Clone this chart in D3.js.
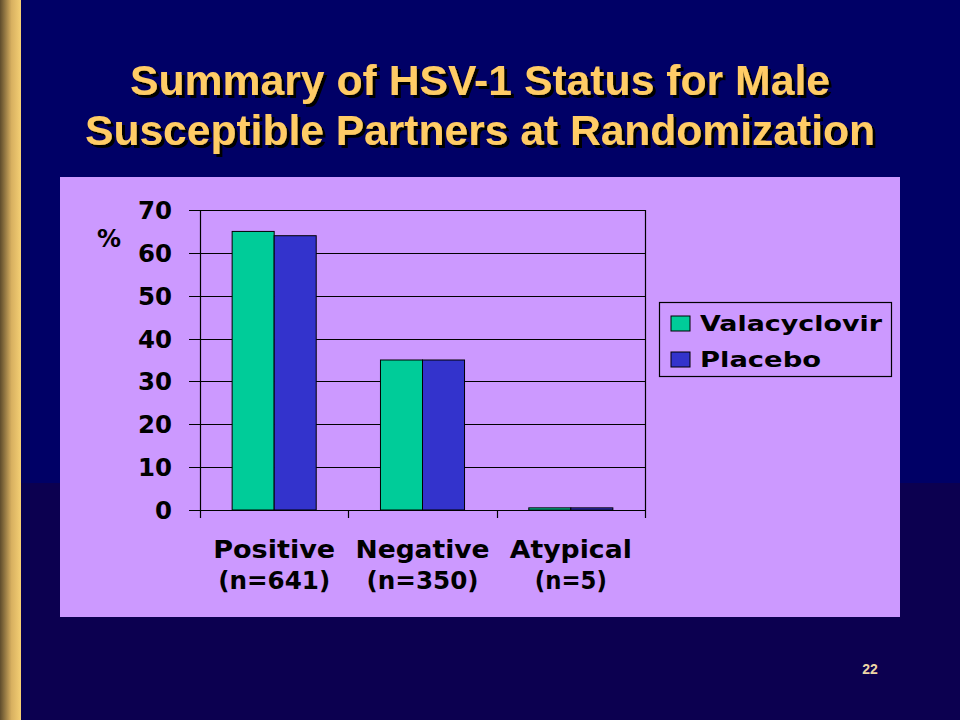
<!DOCTYPE html>
<html><head><meta charset="utf-8">
<script src="https://cdn.jsdelivr.net/npm/d3@7"></script>
<style>html,body{margin:0;padding:0;background:#000066;}svg{display:block;}</style>
</head><body>
<script>
const titleLines = ["Summary of HSV-1 Status for Male", "Susceptible Partners at Randomization"];
const categories = ["Positive", "Negative", "Atypical"];
const categorySubLabels = ["(n=641)", "(n=350)", "(n=5)"];
const seriesNames = ["Valacyclovir", "Placebo"];
const valacyclovir = [65, 35, 0.5];
const placebo = [64, 35, 0.5];
const yTicks = [0, 10, 20, 30, 40, 50, 60, 70];
const pageNumber = "22";

const W = 960, H = 720;
const svg = d3.select("body").append("svg").attr("width", W).attr("height", H);
const defs = svg.append("defs");
const g1 = defs.append("linearGradient").attr("id", "gold").attr("x1", "0").attr("x2", "1").attr("y1", "0").attr("y2", "0");
g1.append("stop").attr("offset", "0").attr("stop-color", "#5e4c2c");
g1.append("stop").attr("offset", "0.55").attr("stop-color", "#d8b060");
g1.append("stop").attr("offset", "1").attr("stop-color", "#f4cf74");
const f = defs.append("filter").attr("id", "shadow").attr("x", "-5%").attr("y", "-20%").attr("width", "115%").attr("height", "150%");
f.append("feDropShadow").attr("dx", 3).attr("dy", 3).attr("stdDeviation", 0.4).attr("flood-color", "#000").attr("flood-opacity", 1);

// background
svg.append("rect").attr("x", 0).attr("y", 0).attr("width", W).attr("height", 483).attr("fill", "#000066");
svg.append("rect").attr("x", 0).attr("y", 483).attr("width", W).attr("height", H - 483).attr("fill", "#0c0050");
svg.append("rect").attr("x", 21).attr("y", 0).attr("width", 9).attr("height", H).attr("fill", "#000050").attr("opacity", 0.35);
svg.append("rect").attr("x", 0).attr("y", 0).attr("width", 21).attr("height", H).attr("fill", "url(#gold)");

// title
const titleFont = "'Liberation Sans', Arial, sans-serif";
const titleY = [95, 145];
const titleW = [700, 790];
titleLines.forEach((t, i) => {
  svg.append("text").attr("x", 480).attr("y", titleY[i])
    .attr("text-anchor", "middle").attr("font-family", titleFont).attr("font-weight", "bold")
    .attr("font-size", 42).attr("fill", "#ffcc66").attr("filter", "url(#shadow)")
    .attr("textLength", titleW[i]).attr("lengthAdjust", "spacingAndGlyphs").text(t);
});

// panel
svg.append("rect").attr("x", 60).attr("y", 177).attr("width", 840).attr("height", 440).attr("fill", "#cc99ff");

const chartFont = "'DejaVu Sans', Verdana, sans-serif";
const x0 = d3.scaleBand().domain(categories).range([200, 645]).paddingInner(0.4333).paddingOuter(0.2167);
const x1 = d3.scaleBand().domain(seriesNames).range([0, x0.bandwidth()]);
const y = d3.scaleLinear().domain([0, 70]).range([510, 210]);
const color = d3.scaleOrdinal().domain(seriesNames).range(["#00cc99", "#3333cc"]);

const plot = svg.append("g");
plot.selectAll("line.grid").data(yTicks).join("line")
  .attr("x1", 189).attr("x2", 645).attr("y1", d => Math.round(y(d)) + 0.5).attr("y2", d => Math.round(y(d)) + 0.5)
  .attr("stroke", "#000").attr("stroke-width", 1.2);
plot.append("line").attr("x1", 200.5).attr("x2", 200.5).attr("y1", y(70)).attr("y2", 518).attr("stroke", "#000").attr("stroke-width", 1.2);
plot.append("line").attr("x1", 645.5).attr("x2", 645.5).attr("y1", y(70)).attr("y2", 518).attr("stroke", "#000").attr("stroke-width", 1.2);
const bounds = categories.map(c => x0(c) - x0.step() * x0.paddingOuter()).slice(1);
plot.selectAll("line.ct").data(bounds).join("line")
  .attr("x1", d => Math.round(d) + 0.5).attr("x2", d => Math.round(d) + 0.5).attr("y1", y(0)).attr("y2", 518)
  .attr("stroke", "#000").attr("stroke-width", 1.2);

const rows = categories.map((c, i) => ({ cat: c, vals: [valacyclovir[i], placebo[i]] }));
const grp = plot.selectAll("g.cat").data(rows).join("g").attr("transform", d => `translate(${x0(d.cat)},0)`);
grp.selectAll("rect").data(d => d.vals.map((v, j) => ({ s: seriesNames[j], v }))).join("rect")
  .attr("x", d => x1(d.s)).attr("width", x1.bandwidth())
  .attr("y", d => y(d.v)).attr("height", d => y(0) - y(d.v))
  .attr("fill", d => color(d.s)).attr("stroke", "#000").attr("stroke-width", 1);

plot.selectAll("text.yt").data(yTicks).join("text")
  .attr("x", 172).attr("y", d => y(d) + 9).attr("text-anchor", "end")
  .attr("font-family", chartFont).attr("font-weight", "bold").attr("font-size", 25).attr("fill", "#000")
  .attr("textLength", d => String(d).length === 2 ? 34 : 17).attr("lengthAdjust", "spacingAndGlyphs")
  .text(d => d);
plot.append("text").attr("x", 97).attr("y", 247).attr("font-family", chartFont).attr("font-weight", "bold")
  .attr("font-size", 24).attr("fill", "#000").attr("textLength", 24).attr("lengthAdjust", "spacingAndGlyphs").text("%");

const catW = [122, 134, 122];
const subW = [112, 112, 72];
categories.forEach((c, i) => {
  const cx = x0(c) + x0.bandwidth() / 2;
  plot.append("text").attr("x", cx).attr("y", 558).attr("text-anchor", "middle")
    .attr("font-family", chartFont).attr("font-weight", "bold").attr("font-size", 24).attr("fill", "#000")
    .attr("textLength", catW[i]).attr("lengthAdjust", "spacingAndGlyphs").text(c);
  plot.append("text").attr("x", cx).attr("y", 589).attr("text-anchor", "middle")
    .attr("font-family", chartFont).attr("font-weight", "bold").attr("font-size", 24).attr("fill", "#000")
    .attr("textLength", subW[i]).attr("lengthAdjust", "spacingAndGlyphs").text(categorySubLabels[i]);
});

const leg = svg.append("g");
leg.append("rect").attr("x", 659.5).attr("y", 302.5).attr("width", 232).attr("height", 74)
  .attr("fill", "none").attr("stroke", "#000").attr("stroke-width", 1.2);
const legW = [182, 121];
seriesNames.forEach((s, i) => {
  const yy = 316 + i * 36;
  leg.append("rect").attr("x", 671).attr("y", yy).attr("width", 19).attr("height", 15)
    .attr("fill", color(s)).attr("stroke", "#000").attr("stroke-width", 1);
  leg.append("text").attr("x", 700).attr("y", yy + 15).attr("font-family", chartFont).attr("font-weight", "bold")
    .attr("font-size", 22).attr("fill", "#000")
    .attr("textLength", legW[i]).attr("lengthAdjust", "spacingAndGlyphs").text(s);
});

svg.append("text").attr("x", 870).attr("y", 674).attr("text-anchor", "middle")
  .attr("font-family", titleFont).attr("font-weight", "bold").attr("font-size", 14).attr("fill", "#ecd6a6").text(pageNumber);
</script>
</body></html>
